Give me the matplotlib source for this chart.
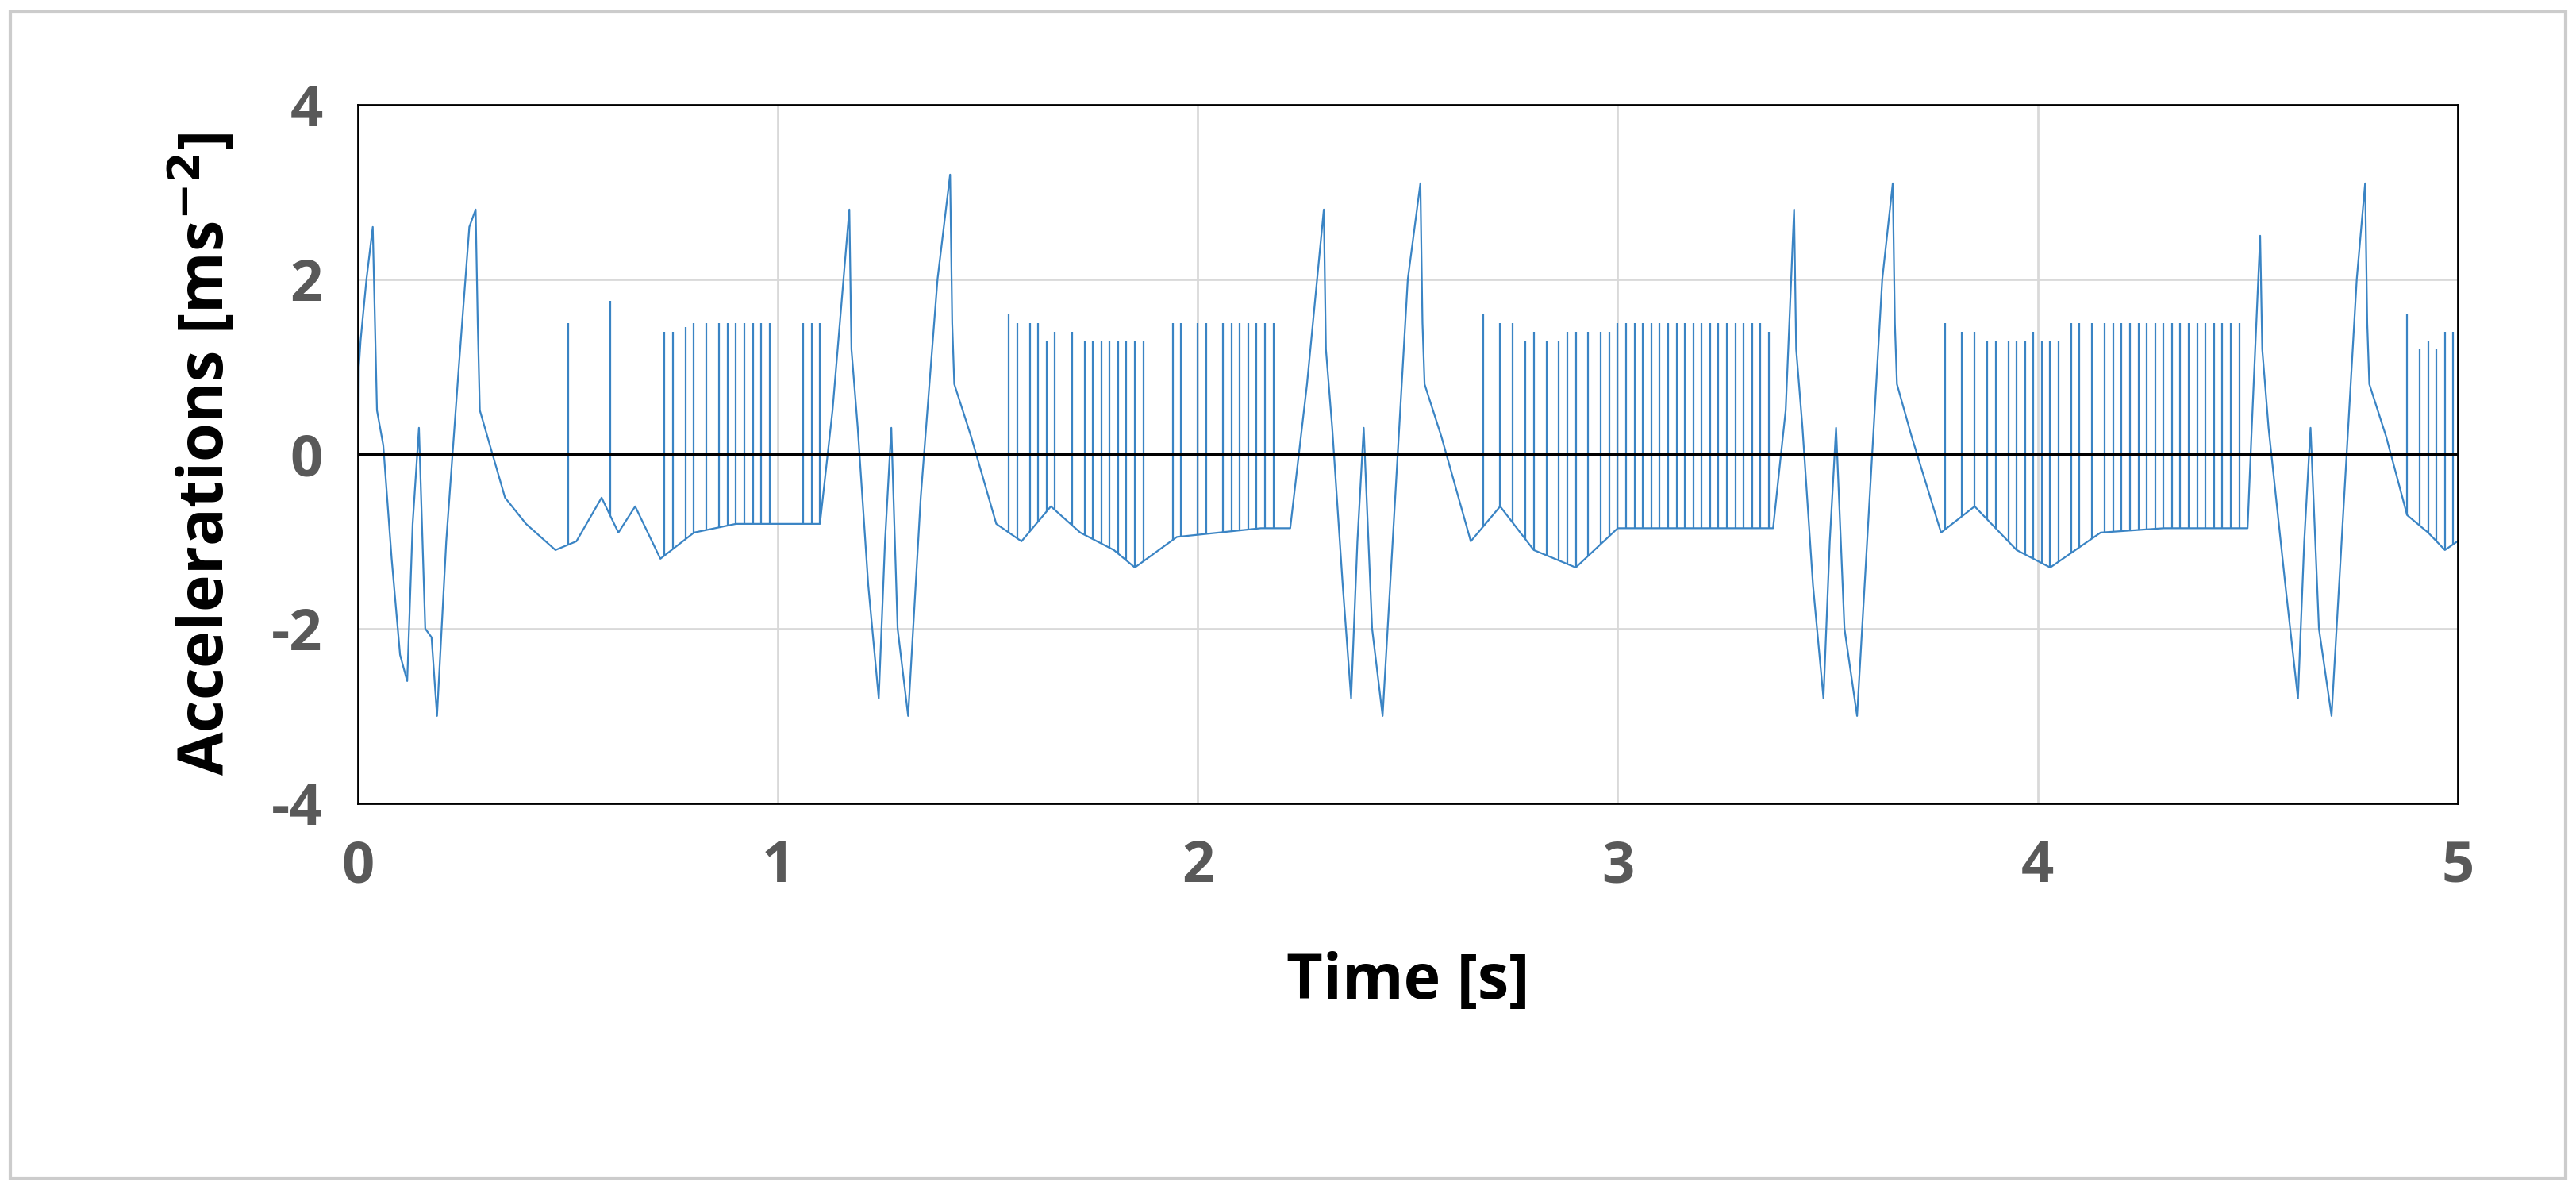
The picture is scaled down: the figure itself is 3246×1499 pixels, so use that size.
import numpy as np
import matplotlib.pyplot as plt
from matplotlib.patches import Rectangle

plt.rcParams['font.family'] = ['Open Sans', 'DejaVu Sans']
plt.rcParams['axes.unicode_minus'] = False

# main trace (time [s], acceleration [m/s^2])
t_main = [0.0, 0.002, 0.006, 0.02, 0.035, 0.045, 0.06, 0.08, 0.10, 0.117, 0.13, 0.145,
          0.16, 0.175, 0.188, 0.21, 0.24, 0.265, 0.28, 0.285, 0.29, 0.32, 0.35, 0.40, 0.47,
          0.52, 0.58, 0.62, 0.66, 0.72, 0.80, 0.90, 1.00, 1.10,
          1.13, 1.17, 1.175, 1.19, 1.215, 1.24, 1.255, 1.27, 1.285, 1.31, 1.34, 1.38, 1.41,
          1.415, 1.42, 1.46, 1.52, 1.58, 1.65, 1.72, 1.80, 1.85, 1.95, 2.05, 2.15, 2.22,
          2.26, 2.30, 2.305, 2.32, 2.345, 2.365, 2.38, 2.395, 2.415, 2.44, 2.47, 2.50, 2.53,
          2.535, 2.54, 2.58, 2.65, 2.72, 2.80, 2.90, 3.00, 3.15, 3.30, 3.37,
          3.40, 3.42, 3.425, 3.44, 3.465, 3.49, 3.505, 3.52, 3.54, 3.57, 3.60, 3.63, 3.655,
          3.66, 3.665, 3.70, 3.77, 3.85, 3.95, 4.03, 4.15, 4.30, 4.45, 4.50,
          4.51, 4.53, 4.535, 4.55, 4.59, 4.62, 4.635, 4.65, 4.67, 4.70, 4.73, 4.76, 4.78,
          4.785, 4.79, 4.83, 4.88, 4.93, 4.97, 5.0]
a_main = [-1.0, 1.0, 1.3, 2.0, 2.6, 0.5, 0.1, -1.2, -2.3, -2.6, -0.8, 0.3,
          -2.0, -2.1, -3.0, -1.0, 1.0, 2.6, 2.8, 1.5, 0.5, 0.0, -0.5, -0.8, -1.1,
          -1.0, -0.5, -0.9, -0.6, -1.2, -0.9, -0.8, -0.8, -0.8,
          0.5, 2.8, 1.2, 0.3, -1.5, -2.8, -1.0, 0.3, -2.0, -3.0, -0.5, 2.0, 3.2,
          1.5, 0.8, 0.2, -0.8, -1.0, -0.6, -0.9, -1.1, -1.3, -0.95, -0.9, -0.85, -0.85,
          0.8, 2.8, 1.2, 0.3, -1.5, -2.8, -1.0, 0.3, -2.0, -3.0, -0.5, 2.0, 3.1,
          1.5, 0.8, 0.2, -1.0, -0.6, -1.1, -1.3, -0.85, -0.85, -0.85, -0.85,
          0.5, 2.8, 1.2, 0.3, -1.5, -2.8, -1.0, 0.3, -2.0, -3.0, -0.5, 2.0, 3.1,
          1.5, 0.8, 0.2, -0.9, -0.6, -1.1, -1.3, -0.9, -0.85, -0.85, -0.85,
          0.3, 2.5, 1.2, 0.3, -1.5, -2.8, -1.0, 0.3, -2.0, -3.0, -0.5, 2.0, 3.1,
          1.5, 0.8, 0.2, -0.7, -0.9, -1.1, -1.0]

# spikes from the baseline up to the given value
t_spike = [0.50, 0.60, 0.73, 0.75, 0.78, 0.80, 0.83, 0.86, 0.88, 0.90, 0.92, 0.94, 0.96,
           0.98, 1.06, 1.08, 1.10,
           1.55, 1.57, 1.60, 1.62, 1.64, 1.66, 1.70, 1.73, 1.75, 1.77, 1.79, 1.81, 1.83,
           1.85, 1.87, 1.94, 1.96, 2.00, 2.02, 2.06, 2.08, 2.10, 2.12, 2.14, 2.16, 2.18,
           2.68, 2.72, 2.75, 2.78, 2.80, 2.83, 2.86, 2.88, 2.90, 2.93, 2.96, 2.98, 3.00,
           3.02, 3.04, 3.06, 3.08, 3.10, 3.12, 3.14, 3.16, 3.18, 3.20, 3.22, 3.24, 3.26,
           3.28, 3.30, 3.32, 3.34, 3.36,
           3.78, 3.82, 3.85, 3.88, 3.90, 3.93, 3.95, 3.97, 3.99, 4.01, 4.03, 4.05, 4.08,
           4.10, 4.13, 4.16, 4.18, 4.20, 4.22, 4.24, 4.26, 4.28, 4.30, 4.32, 4.34, 4.36,
           4.38, 4.40, 4.42, 4.44, 4.46, 4.48,
           4.88, 4.91, 4.93, 4.95, 4.97, 4.99]
a_spike = [1.5, 1.75, 1.4, 1.4, 1.45, 1.5, 1.5, 1.5, 1.5, 1.5, 1.5, 1.5, 1.5,
           1.5, 1.5, 1.5, 1.5,
           1.6, 1.5, 1.5, 1.5, 1.3, 1.4, 1.4, 1.3, 1.3, 1.3, 1.3, 1.3, 1.3,
           1.3, 1.3, 1.5, 1.5, 1.5, 1.5, 1.5, 1.5, 1.5, 1.5, 1.5, 1.5, 1.5,
           1.6, 1.5, 1.5, 1.3, 1.4, 1.3, 1.3, 1.4, 1.4, 1.4, 1.4, 1.4, 1.5,
           1.5, 1.5, 1.5, 1.5, 1.5, 1.5, 1.5, 1.5, 1.5, 1.5, 1.5, 1.5, 1.5,
           1.5, 1.5, 1.5, 1.5, 1.4,
           1.5, 1.4, 1.4, 1.3, 1.3, 1.3, 1.3, 1.3, 1.4, 1.3, 1.3, 1.3, 1.5,
           1.5, 1.5, 1.5, 1.5, 1.5, 1.5, 1.5, 1.5, 1.5, 1.5, 1.5, 1.5, 1.5,
           1.5, 1.5, 1.5, 1.5, 1.5, 1.5,
           1.6, 1.2, 1.3, 1.2, 1.4, 1.4]

color = '#3a84c4'
fig = plt.figure(figsize=(32.46, 14.99), dpi=100)
fig.patches.append(Rectangle((0.004, 0.01), 0.992, 0.98, transform=fig.transFigure,
                             fill=False, edgecolor='#cccccc', linewidth=3))
ax = fig.add_axes([0.139, 0.325, 0.815, 0.587])

ax.plot(t_main, a_main, color=color, lw=1.6)
base = np.interp(t_spike, t_main, a_main)
ax.vlines(t_spike, base, a_spike, color=color, lw=1.6)
ax.axhline(0, color='black', lw=2.2)

ax.set_xlim(0, 5)
ax.set_ylim(-4, 4)
ax.set_xticks(range(6))
ax.set_yticks([-4, -2, 0, 2, 4])
ax.grid(True, color='#d9d9d9', lw=2)
ax.set_axisbelow(True)
for s in ax.spines.values():
    s.set_color('black')
    s.set_linewidth(2)
ax.tick_params(length=0, labelsize=52, labelcolor='#595959', pad=32)
for lab in ax.get_xticklabels() + ax.get_yticklabels():
    lab.set_fontweight('bold')
ax.set_xlabel('Time [s]', fontsize=57, fontweight='bold', labelpad=50)
ax.set_ylabel('Accelerations [ms$^{\\mathbf{-2}}$]', fontsize=57, fontweight='bold', labelpad=30)

fig.savefig('out.png', dpi=100)
